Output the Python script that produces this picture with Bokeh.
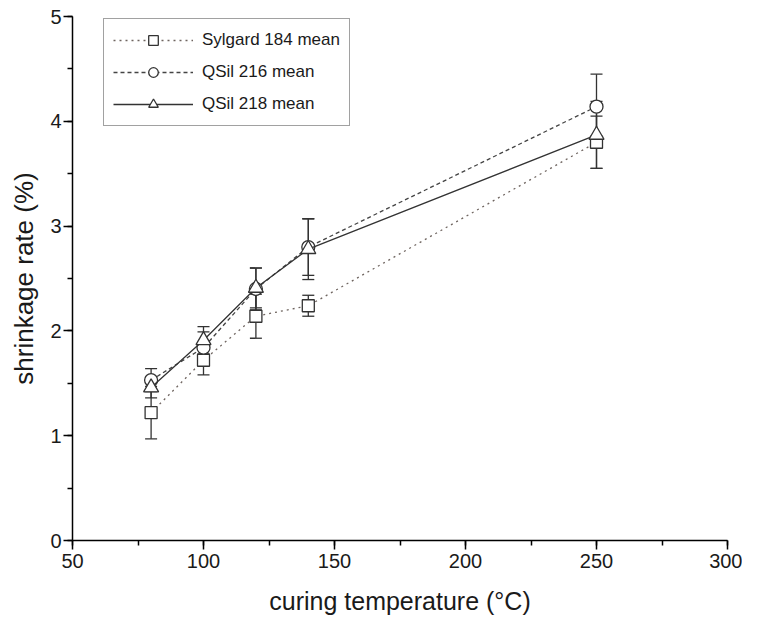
from bokeh.plotting import figure
from bokeh.models import (ColumnDataSource, Whisker, TeeHead, Legend, LegendItem,
                          SingleIntervalTicker, Range1d)
from bokeh.embed import file_html
from bokeh.resources import INLINE

# ---- data ----
temps = [80, 100, 120, 140, 250]
sylgard_mean = [1.22, 1.72, 2.14, 2.24, 3.80]
sylgard_err = [0.25, 0.14, 0.21, 0.10, 0.25]
qsil216_mean = [1.53, 1.84, 2.40, 2.80, 4.14]
qsil216_err = [0.11, 0.15, 0.20, 0.27, 0.31]
qsil218_mean = [1.46, 1.91, 2.41, 2.78, 3.87]
qsil218_err = [0.10, 0.13, 0.19, 0.29, 0.32]
series_labels = ["Sylgard 184 mean", "QSil 216 mean", "QSil 218 mean"]
x_label = "curing temperature (°C)"
y_label = "shrinkage rate (%)"

FONT = "Liberation Sans"
FRAME_W, FRAME_H = 655, 524

p = figure(frame_width=FRAME_W, frame_height=FRAME_H,
           output_backend="svg", toolbar_location=None,
           x_range=Range1d(50, 300), y_range=Range1d(0, 5),
           min_border_left=72, min_border_right=15, min_border_top=16, min_border_bottom=0)
p.outline_line_color = None
p.xgrid.visible = False
p.ygrid.visible = False
p.background_fill_color = "white"
p.border_fill_color = "white"

p.xaxis.ticker = SingleIntervalTicker(interval=50, num_minor_ticks=2)
p.yaxis.ticker = SingleIntervalTicker(interval=1, num_minor_ticks=2)
for ax in (p.xaxis[0], p.yaxis[0]):
    ax.axis_line_color = "black"
    ax.axis_line_width = 1.5
    ax.major_tick_line_color = "black"
    ax.major_tick_line_width = 1.5
    ax.minor_tick_line_color = "black"
    ax.minor_tick_line_width = 1.5
    ax.major_tick_out = 9
    ax.major_tick_in = 0
    ax.minor_tick_out = 5
    ax.minor_tick_in = 0
    ax.major_label_text_font = FONT
    ax.major_label_text_font_size = "20px"
    ax.major_label_text_color = "#1a1a1a"
    ax.axis_label_text_font = FONT
    ax.axis_label_text_font_style = "normal"
    ax.axis_label_text_color = "#1a1a1a"
p.xaxis.axis_label_text_font_size = "25px"
p.yaxis.axis_label_text_font_size = "26px"
p.xaxis.axis_label = x_label
p.yaxis.axis_label = y_label
p.xaxis.major_label_standoff = 4
p.yaxis.major_label_standoff = 2
p.xaxis.axis_label_standoff = 16
p.yaxis.axis_label_standoff = 8

line_col = "#333333"
specs = [
    (sylgard_mean, sylgard_err, "#6f6560", "dotted", "square", 12),
    (qsil216_mean, qsil216_err, "#444444", "4 3", "circle", 13),
    (qsil218_mean, qsil218_err, "#333333", "solid", "triangle", 15),
]

items = []
for (mean, err, col, dash, marker, size), lab in zip(specs, series_labels):
    src = ColumnDataSource(dict(x=temps, y=mean,
                                lo=[m - e for m, e in zip(mean, err)],
                                hi=[m + e for m, e in zip(mean, err)]))
    w = Whisker(source=src, base="x", lower="lo", upper="hi",
                line_color=line_col, line_width=1.3,
                upper_head=TeeHead(size=12, line_color=line_col, line_width=1.3),
                lower_head=TeeHead(size=12, line_color=line_col, line_width=1.3))
    p.add_layout(w)
    ln = p.line("x", "y", source=src, line_color=col, line_width=1.3, line_dash=dash)
    mk = p.scatter("x", "y", source=src, marker=marker, size=size,
                   line_color=line_col, line_width=1.3, fill_color="white")
    items.append(LegendItem(label=lab, renderers=[ln, mk]))

LEG_H = 106
legend = Legend(items=items, location=(31, FRAME_H - 4 - LEG_H),
                label_text_font=FONT, label_text_font_size="17px",
                label_text_color="#1a1a1a",
                glyph_width=80, glyph_height=24, spacing=8, padding=9,
                label_standoff=9, margin=0,
                border_line_color="#444444", border_line_width=1.3,
                background_fill_alpha=1)
p.add_layout(legend)

open("out.html", "w").write(file_html(p, INLINE))
